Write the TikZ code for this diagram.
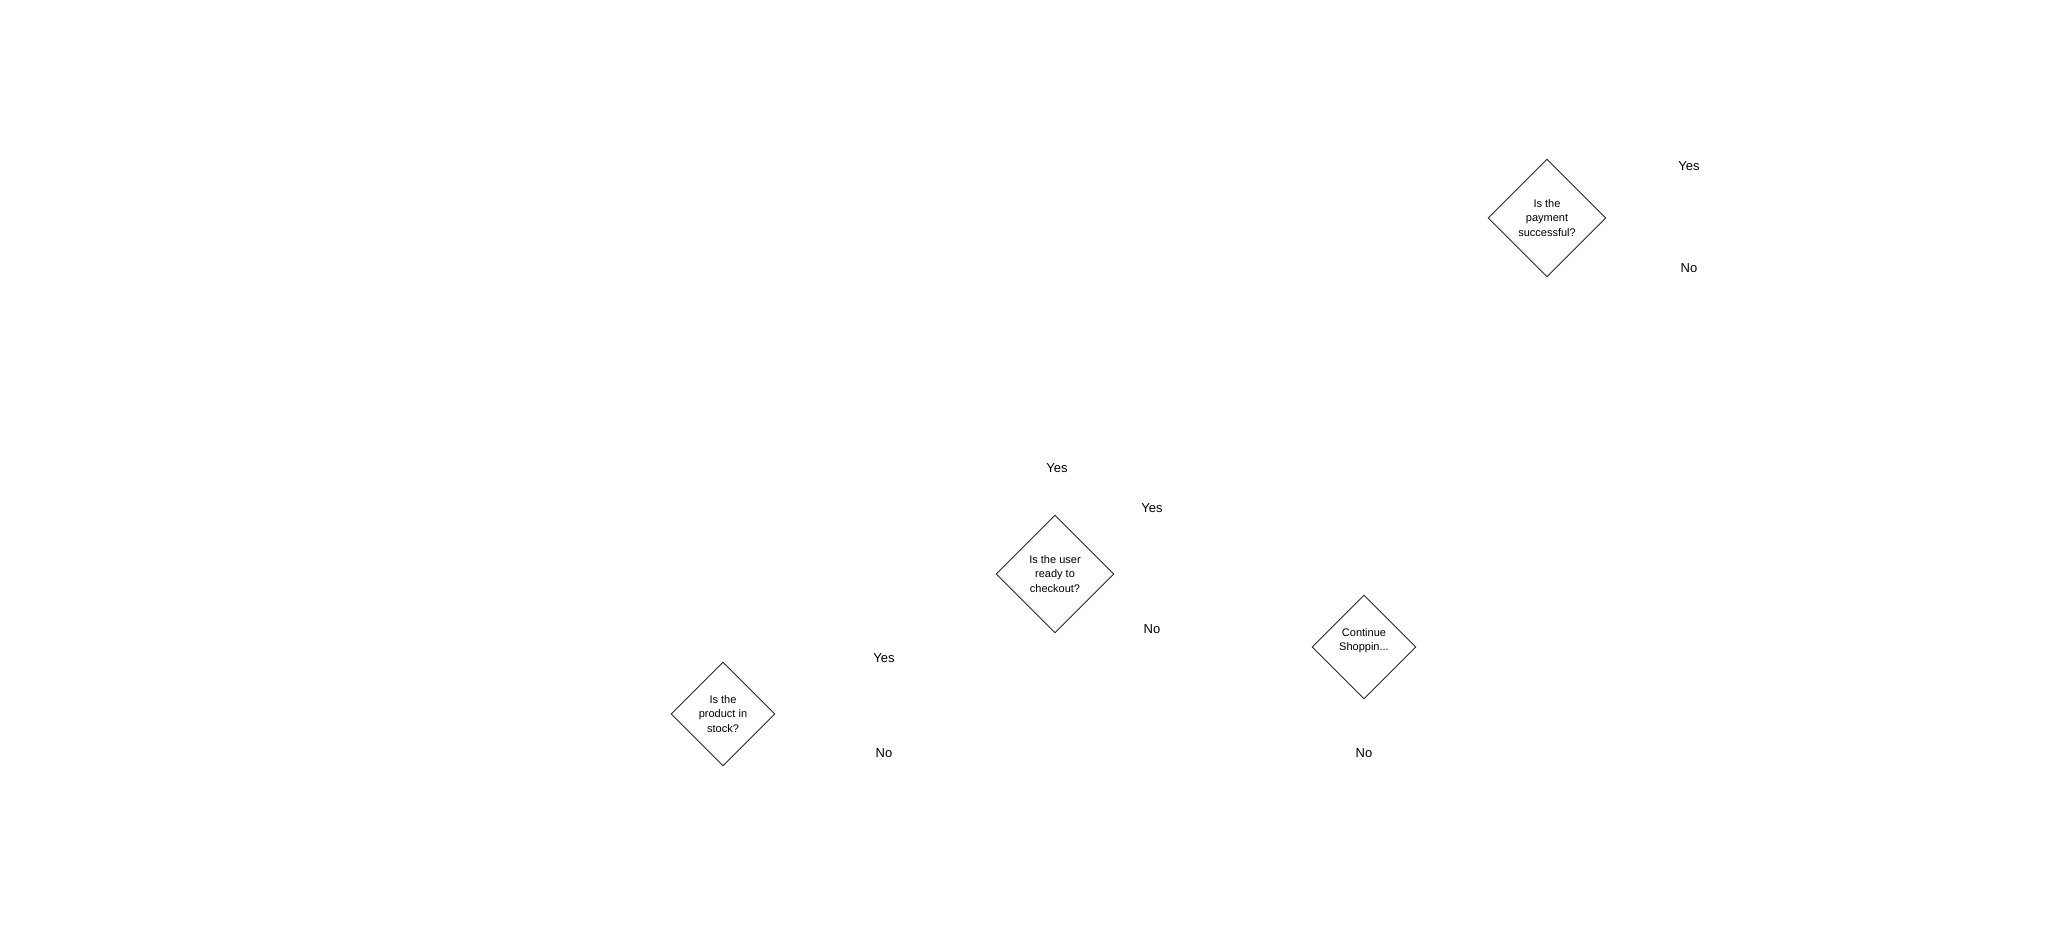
\documentclass[tikz,border=0pt]{standalone}
\usepackage{fontspec}
\setsansfont{Liberation Sans}
\usetikzlibrary{shapes.geometric}

\begin{document}
\begin{tikzpicture}[x=1pt,y=-1pt]
\tikzset{
  decision/.style={diamond,draw=black!85,line width=0.9pt,inner sep=0pt,align=center,font=\sffamily\fontsize{11}{14.4}\selectfont},
  bigdecision/.style={decision,minimum width=118,minimum height=118},
  smalldecision/.style={decision,minimum width=104,minimum height=104},
  answer/.style={fill=white,inner sep=2pt,font=\sffamily\fontsize{13}{15}\selectfont}
}
\useasboundingbox (0,0) rectangle (2048,930);
\node[smalldecision] (n_stock) at (723,714) {Is the\\product in\\stock?};
\node[bigdecision] (n_ready) at (1055,574) {Is the user\\ready to\\checkout?};
\node[smalldecision] (n_shop) at (1364,647) {Continue\\Shoppin...\\~};
\node[bigdecision] (n_pay) at (1547,218) {Is the\\payment\\successful?};
\node[answer] (n_stock_yes) at (884,658) {Yes};
\node[answer] (n_stock_no) at (884,753) {No};
\node[answer] (n_ready_top) at (1057,468) {Yes};
\node[answer] (n_ready_yes) at (1152,508) {Yes};
\node[answer] (n_ready_no) at (1152,629) {No};
\node[answer] (n_shop_no) at (1364,753) {No};
\node[answer] (n_pay_yes) at (1689,166) {Yes};
\node[answer] (n_pay_no) at (1689,268) {No};
\end{tikzpicture}
\end{document}
